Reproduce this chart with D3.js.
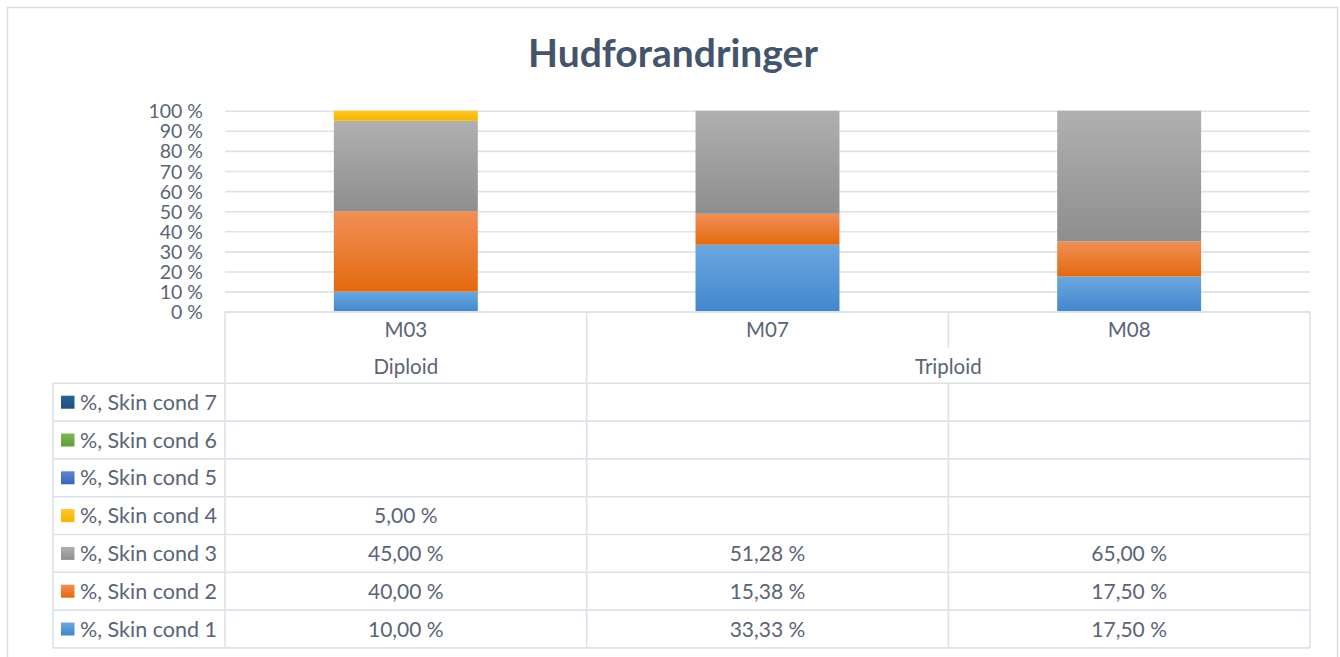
<!DOCTYPE html>
<html><head><meta charset="utf-8">
<script src="https://cdn.jsdelivr.net/npm/d3@7"></script>
<style>
body{margin:0;background:#fff;}
svg{display:block;font-family:Lato,"Noto Sans",sans-serif;}
</style></head>
<body><svg id="c" width="1340" height="657"></svg>
<script>
const title = "Hudforandringer";
const categories = ["M03","M07","M08"];
const groups = [{name:"Diploid", cats:["M03"]},{name:"Triploid", cats:["M07","M08"]}];
const seriesNames = ["%, Skin cond 1","%, Skin cond 2","%, Skin cond 3","%, Skin cond 4","%, Skin cond 5","%, Skin cond 6","%, Skin cond 7"];
const cond1 = [10.00, 33.33, 17.50];
const cond2 = [40.00, 15.38, 17.50];
const cond3 = [45.00, 51.28, 65.00];
const cond4 = [5.00, null, null];
const cond5 = [null, null, null];
const cond6 = [null, null, null];
const cond7 = [null, null, null];
const seriesValues = [cond1, cond2, cond3, cond4, cond5, cond6, cond7];
const yTicks = [0,10,20,30,40,50,60,70,80,90,100];
const yTickLabels = ["0 %","10 %","20 %","30 %","40 %","50 %","60 %","70 %","80 %","90 %","100 %"];
const colorsTop = ["#6ba7df","#f18f56","#b0b0b0","#ffc62a","#5a86d4","#7dba56","#2a639a"];
const colorsBot = ["#4287cc","#e4690f","#8e8e8e","#f2b600","#3a66b8","#5e9c39","#1f4f7e"];

const svg = d3.select("#c");
const gridColor = "#dde2ea";
const textColor = "#5a6476";

// outer border
svg.append("rect").attr("x",7.5).attr("y",7.5).attr("width",1330).attr("height",660)
  .attr("fill","none").attr("stroke","#d9dde3").attr("stroke-width",1.5);

// title
svg.append("text").attr("x",673).attr("y",67).attr("text-anchor","middle")
  .attr("font-size",39).attr("font-weight","bold").attr("fill","#44546a").text(title);

const plotL = 225, plotR = 1310, plotT = 110.7, plotB = 311.7;
const x = d3.scaleBand().domain(categories).range([plotL, plotR]).paddingInner(0.602).paddingOuter(0.301);
const y = d3.scaleLinear().domain([0,100]).range([plotB, plotT]);

// gridlines
const grid = svg.append("g").attr("transform",`translate(${plotL},0)`)
  .call(d3.axisLeft(y).tickValues(yTicks).tickSize(-(plotR-plotL)).tickFormat(""));
grid.select(".domain").remove();
grid.selectAll("line").attr("stroke",gridColor).attr("stroke-width",1.6);

// y labels
const yax = svg.append("g").attr("transform",`translate(203,0)`)
  .call(d3.axisLeft(y).tickValues(yTicks).tickSize(0).tickPadding(0).tickFormat((d,i)=>yTickLabels[i]));
yax.select(".domain").remove();
yax.selectAll("text").attr("font-size",19.5).attr("fill",textColor).attr("font-family","Lato,sans-serif").attr("dy","0.36em");

// gradients
const defs = svg.append("defs");
seriesNames.forEach((s,i)=>{
  const g = defs.append("linearGradient").attr("id","g"+i).attr("x1",0).attr("y1",0).attr("x2",0).attr("y2",1);
  g.append("stop").attr("offset","0%").attr("stop-color",colorsTop[i]);
  g.append("stop").attr("offset","100%").attr("stop-color",colorsBot[i]);
});

// stacked bars
const rows = categories.map((c,ci)=>{ const o={cat:c}; seriesNames.forEach((s,si)=>o[s]=seriesValues[si][ci]||0); return o;});
const stack = d3.stack().keys(seriesNames)(rows);
stack.forEach((layer,si)=>{
  svg.append("g").selectAll("rect").data(layer.filter(d=>d[1]-d[0]>0)).join("rect")
    .attr("x",d=>x(d.data.cat)).attr("width",x.bandwidth())
    .attr("y",d=>y(d[1])).attr("height",d=>y(d[0])-y(d[1]))
    .attr("fill",`url(#g${si})`);
});

// table lines
const step = x.step();
const colEdges = [plotL, plotL+step, plotL+2*step, plotR];
const rowH = 37.8;
const tTop = 383.3;
const tBot = tTop + rowH*7;
const lines = svg.append("g").attr("stroke",gridColor).attr("stroke-width",1.6);
lines.append("line").attr("x1",plotL).attr("x2",plotR).attr("y1",plotB).attr("y2",plotB);
lines.append("line").attr("x1",colEdges[0]).attr("x2",colEdges[0]).attr("y1",plotB).attr("y2",tBot);
lines.append("line").attr("x1",colEdges[1]).attr("x2",colEdges[1]).attr("y1",plotB).attr("y2",tBot);
lines.append("line").attr("x1",colEdges[2]).attr("x2",colEdges[2]).attr("y1",plotB).attr("y2",348);
lines.append("line").attr("x1",colEdges[2]).attr("x2",colEdges[2]).attr("y1",tTop).attr("y2",tBot);
lines.append("line").attr("x1",colEdges[3]).attr("x2",colEdges[3]).attr("y1",plotB).attr("y2",tBot);
lines.append("line").attr("x1",53).attr("x2",53).attr("y1",tTop).attr("y2",tBot);
for(let r=0;r<=7;r++){
  lines.append("line").attr("x1",53).attr("x2",plotR).attr("y1",tTop+r*rowH).attr("y2",tTop+r*rowH);
}

// category labels
svg.append("g").selectAll("text").data(categories).join("text")
  .attr("x",d=>x(d)+x.bandwidth()/2).attr("y",337).attr("text-anchor","middle")
  .attr("font-size",20.5).attr("fill",textColor).text(d=>d);
svg.append("g").selectAll("text").data(groups).join("text")
  .attr("x",d=>{const a=x(d.cats[0]), b=x(d.cats[d.cats.length-1])+x.bandwidth(); return (a+b)/2;})
  .attr("y",373.5).attr("text-anchor","middle")
  .attr("font-size",20.5).attr("fill",textColor).text(d=>d.name);

// table rows (cond 7 at top)
const order = d3.range(seriesNames.length).reverse();
order.forEach((si,ri)=>{
  const cy = tTop + ri*rowH + rowH/2;
  svg.append("rect").attr("x",61).attr("y",cy-6.5).attr("width",13.5).attr("height",13)
    .attr("fill",`url(#g${si})`);
  svg.append("text").attr("x",80).attr("y",cy+7.5).attr("font-size",21.5).attr("fill",textColor).text(seriesNames[si]);
  categories.forEach((c,ci)=>{
    const v = seriesValues[si][ci];
    if(v==null) return;
    svg.append("text").attr("x",x(c)+x.bandwidth()/2).attr("y",cy+7.5).attr("text-anchor","middle")
      .attr("font-size",21).attr("fill",textColor).text(v.toFixed(2).replace(".",",")+" %");
  });
});
</script></body></html>
